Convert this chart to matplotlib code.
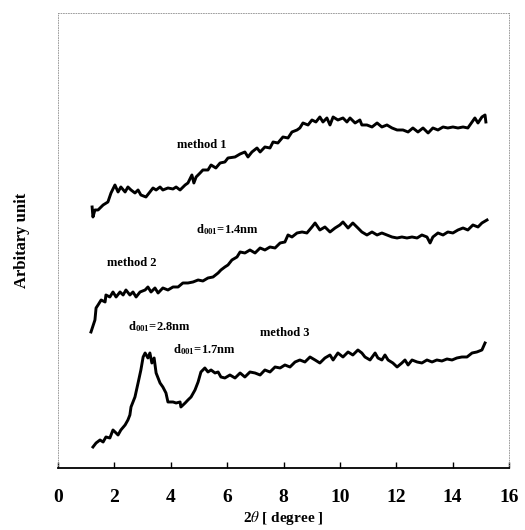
import matplotlib
matplotlib.use('Agg')
import matplotlib.pyplot as plt

plt.rcParams['font.family'] = ['Liberation Serif', 'DejaVu Serif']
plt.rcParams['mathtext.fontset'] = 'stix'

# XRD patterns, 2theta in degrees, intensity in arbitrary units (offset per curve)
m1_theta = [1.21, 1.24, 1.31, 1.42, 1.60, 1.77, 1.88, 2.02, 2.13, 2.23, 2.38, 2.48, 2.59, 2.73,
            2.84, 2.94, 3.12, 3.26, 3.37, 3.48, 3.62, 3.72, 3.90, 4.08, 4.19, 4.33, 4.51, 4.61,
            4.75, 4.82, 4.90, 5.04, 5.14, 5.32, 5.43, 5.60, 5.75, 5.92, 6.03, 6.28, 6.46, 6.63,
            6.74, 6.88, 7.06, 7.17, 7.34, 7.52, 7.63, 7.80, 7.98, 8.16, 8.30, 8.48, 8.58, 8.69,
            8.87, 9.01, 9.15, 9.29, 9.40, 9.54, 9.65, 9.76, 9.93, 10.11, 10.25, 10.36, 10.54,
            10.71, 10.78, 10.96, 11.14, 11.32, 11.49, 11.67, 11.85, 12.03, 12.24, 12.42, 12.59,
            12.77, 12.95, 13.13, 13.30, 13.48, 13.66, 13.83, 14.01, 14.19, 14.37, 14.54, 14.69,
            14.79, 14.90, 15.04, 15.15, 15.18]
m1_int = [261, 251, 258, 258, 263, 266, 275, 283, 276, 281, 276, 281, 278, 275,
          278, 273, 271, 276, 280, 278, 281, 278, 280, 279, 281, 278, 283, 285,
          293, 285, 291, 295, 298, 298, 303, 300, 305, 306, 310, 311, 314, 316,
          311, 316, 320, 316, 321, 320, 326, 325, 331, 330, 336, 338, 340, 345,
          343, 348, 346, 351, 346, 350, 343, 351, 348, 350, 346, 350, 345,
          348, 343, 343, 341, 345, 341, 343, 340, 338, 338, 336, 340,
          336, 340, 335, 340, 338, 341, 340, 341, 340, 341, 340, 346,
          350, 345, 351, 353, 346]

m2_theta = [1.17, 1.31, 1.35, 1.42, 1.53, 1.67, 1.70, 1.84, 1.95, 2.06, 2.20, 2.31, 2.41, 2.55,
            2.66, 2.77, 2.91, 3.09, 3.19, 3.30, 3.44, 3.55, 3.72, 3.90, 4.08, 4.26, 4.43, 4.61,
            4.79, 4.97, 5.14, 5.32, 5.50, 5.68, 5.78, 5.92, 6.03, 6.17, 6.35, 6.46, 6.63, 6.81,
            6.99, 7.17, 7.34, 7.52, 7.70, 7.88, 8.05, 8.16, 8.30, 8.48, 8.66, 8.83, 9.01, 9.12,
            9.29, 9.47, 9.65, 9.83, 10.00, 10.11, 10.29, 10.46, 10.64, 10.78, 10.96, 11.14,
            11.32, 11.49, 11.67, 11.85, 12.03, 12.20, 12.38, 12.56, 12.74, 12.91, 13.09, 13.20,
            13.30, 13.48, 13.66, 13.83, 14.01, 14.19, 14.37, 14.54, 14.72, 14.90, 15.04, 15.22]
m2_int = [136, 148, 160, 163, 168, 166, 173, 171, 176, 171, 176, 173, 178, 173,
          176, 171, 176, 178, 181, 176, 180, 175, 180, 178, 181, 181, 185, 185,
          186, 188, 187, 190, 191, 195, 198, 201, 203, 208, 211, 216, 215, 218,
          215, 220, 218, 221, 220, 225, 226, 233, 231, 235, 236, 235, 241, 245,
          238, 241, 236, 240, 243, 246, 240, 245, 240, 236, 233, 236,
          233, 235, 233, 231, 230, 231, 230, 231, 230, 233, 231, 225,
          231, 235, 233, 236, 235, 238, 240, 238, 243, 241, 245, 248]

m3_theta = [1.24, 1.35, 1.49, 1.60, 1.70, 1.84, 1.95, 2.06, 2.13, 2.23, 2.38, 2.48, 2.55, 2.59,
            2.73, 2.84, 2.94, 3.02, 3.09, 3.19, 3.26, 3.33, 3.41, 3.48, 3.62, 3.72, 3.83, 3.90,
            4.08, 4.19, 4.33, 4.36, 4.51, 4.61, 4.72, 4.86, 4.97, 5.07, 5.21, 5.32, 5.43, 5.57,
            5.68, 5.78, 5.92, 6.10, 6.28, 6.46, 6.63, 6.81, 6.99, 7.17, 7.34, 7.52, 7.70, 7.88,
            8.05, 8.23, 8.41, 8.58, 8.76, 8.94, 9.12, 9.29, 9.47, 9.65, 9.76, 9.93, 10.11,
            10.29, 10.46, 10.64, 10.78, 10.89, 11.07, 11.25, 11.35, 11.49, 11.60, 11.71, 11.88,
            12.03, 12.20, 12.31, 12.42, 12.56, 12.74, 12.91, 13.09, 13.27, 13.44, 13.62, 13.80,
            13.98, 14.15, 14.33, 14.51, 14.69, 14.86, 15.04, 15.15]
m3_int = [21, 25, 28, 26, 31, 30, 38, 35, 33, 38, 43, 48, 53, 61,
          71, 85, 98, 111, 115, 110, 115, 105, 110, 95, 85, 81, 75, 66,
          66, 65, 66, 61, 65, 68, 71, 78, 86, 96, 100, 96, 98, 95,
          96, 91, 90, 93, 90, 95, 91, 96, 95, 93, 98, 96, 101, 100,
          103, 101, 106, 108, 106, 111, 108, 105, 110, 113, 108, 115, 111,
          116, 113, 118, 115, 111, 108, 115, 110, 108, 113, 108, 105,
          101, 105, 108, 103, 108, 106, 105, 108, 106, 108, 107, 109,
          108, 110, 111, 111, 115, 116, 118, 125]

xticks = [0, 2, 4, 6, 8, 10, 12, 14, 16]

fig = plt.figure(figsize=(5.25, 5.30), dpi=100)
ax = fig.add_axes([0.1105, 0.117, 0.859, 0.8585])

for th, inten in [(m1_theta, m1_int), (m2_theta, m2_int), (m3_theta, m3_int)]:
    ax.plot(th, inten, color='black', linewidth=2.1, solid_joinstyle='round')

ax.set_xlim(0, 16)
ax.set_ylim(0, 455)
ax.set_yticks([])
ax.set_xticks(xticks)
ax.set_xticklabels([str(t) for t in xticks], fontsize=14, fontweight='bold')
ax.tick_params(axis='x', direction='in', length=4, width=1, pad=15)

for side in ['top', 'left', 'right']:
    ax.spines[side].set_linestyle((0, (1, 2)))
    ax.spines[side].set_color('0.55')
    ax.spines[side].set_linewidth(0.6)
ax.spines['bottom'].set_linewidth(1.3)

ax.set_xlabel(r'2$\theta$ [ degree ]', fontsize=11, fontweight='bold', labelpad=2)
ax.set_ylabel('Arbitary unit', fontsize=12, fontweight='bold', labelpad=20)

# curve annotations
lbl = dict(fontsize=9, fontweight='bold', ha='center', va='center')
ax.text(5.1, 323, 'method 1', **lbl)
ax.text(6.0, 238, r'd$_{\mathregular{001}}$=1.4nm', **lbl)
ax.text(2.63, 205, 'method 2', **lbl)
ax.text(3.6, 141, r'd$_{\mathregular{001}}$=2.8nm', **lbl)
ax.text(8.05, 135, 'method 3', **lbl)
ax.text(5.2, 118, r'd$_{\mathregular{001}}$=1.7nm', **lbl)

fig.savefig('out.png', dpi=100)
